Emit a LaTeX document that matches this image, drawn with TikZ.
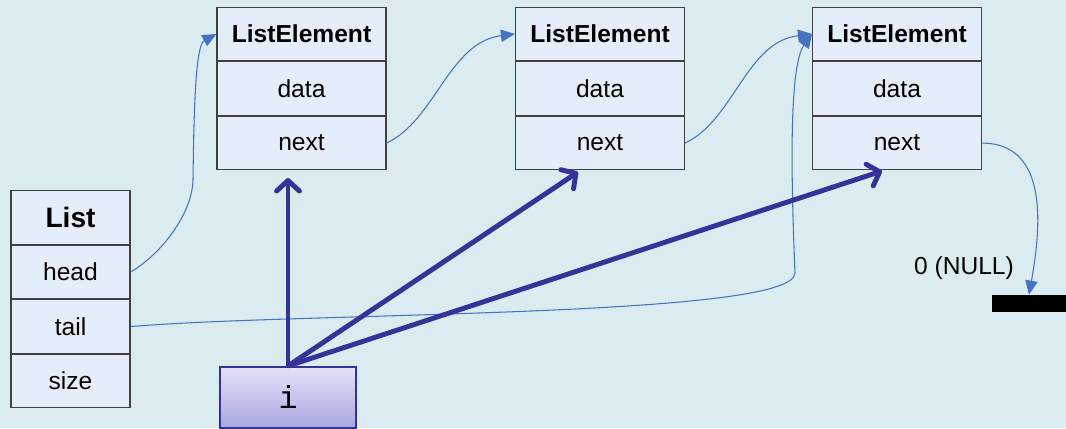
\documentclass[tikz,border=0pt]{standalone}
\usepackage{fontspec}
\setmainfont{Liberation Sans}
\setmonofont{Liberation Mono}
\usetikzlibrary{positioning,arrows.meta}

\definecolor{bgcol}{RGB}{218,236,239}
\definecolor{boxfill}{RGB}{228,238,248}
\definecolor{boxline}{RGB}{64,64,64}
\definecolor{linkcol}{RGB}{68,114,196}
\definecolor{ptrcol}{RGB}{51,51,153}

\begin{document}
\begin{tikzpicture}
  [box/.style={draw=boxline,fill=boxfill,line width=0.6pt,inner sep=0pt,
     minimum height=1.07cm,font=\fontsize{14}{16}\selectfont},
   lbox/.style={box,minimum width=2.38cm},
   ebox/.style={box,minimum width=3.38cm},
   link/.style={draw=linkcol,line width=0.6pt,-{Triangle[length=8pt,width=7pt]}},
   iptr/.style={draw=ptrcol,line width=2.8pt,-{Straight Barb[length=6pt,width=13pt,round]}}]
  \useasboundingbox[fill=bgcol] (0,0) rectangle (21.32,8.56);

  % the list header
  \node[lbox,font=\fontsize{16}{18}\selectfont\bfseries] (list) at (1.41,4.21) {List};
  \node[lbox,below=0pt of list] (head) {head};
  \node[lbox,below=0pt of head] (tail) {tail};
  \node[lbox,below=0pt of tail] (size) {size};

  % the elements
  \foreach \k/\x in {1/6.03,2/12.0,3/17.94} {
    \node[ebox,font=\fontsize{14}{16}\selectfont\bfseries] (e\k) at (\x,7.88) {ListElement};
    \node[ebox,below=0pt of e\k] (d\k) {data};
    \node[ebox,below=0pt of d\k] (n\k) {next};
  }

  % iterator
  \node[draw=ptrcol,line width=1.2pt,top color={rgb,255:red,226;green,226;blue,248},
    bottom color={rgb,255:red,168;green,168;blue,226},minimum width=2.72cm,
    minimum height=1.22cm,inner sep=0pt,font=\fontsize{18}{20}\selectfont\ttfamily] (i) at (5.76,0.61) {i};

  \node[font=\fontsize{14}{16}\selectfont] (nulltxt) at (19.28,3.2) {0 (NULL)};
  \node[fill=black,minimum width=1.48cm,minimum height=0.34cm,inner sep=0pt] (nul) at (20.58,2.49) {};

  \coordinate (p1) at (5.76,5.0);
  \coordinate (p2) at (11.56,5.12);
  \coordinate (p3) at (17.64,5.14);

  \draw[link] (head.east) .. controls (3.2,3.46) and (3.84,4.26) .. (3.86,4.96)
    .. controls (3.88,6.56) and (3.92,7.66) .. (e1.west);
  \draw[link] (n1.east) .. controls +(0.98,0.46) and +(-1.32,-0.16) .. (e2.west);
  \draw[link] (n2.east) .. controls +(0.98,0.46) and +(-1.32,-0.16) .. (e3.west);
  \draw[link] (tail.east) .. controls (6.0,2.32) and (15.9,2.2) .. (15.9,3.1)
    .. controls (15.84,4.6) and (15.75,7.2) .. (e3.west);
  \draw[link] (n3.east) .. controls +(1.38,0) and (20.8,3.9) .. (nul.north);

  \foreach \t in {p1,p2,p3}
    \draw[iptr] (i.north) -- (\t);

\end{tikzpicture}
\end{document}
